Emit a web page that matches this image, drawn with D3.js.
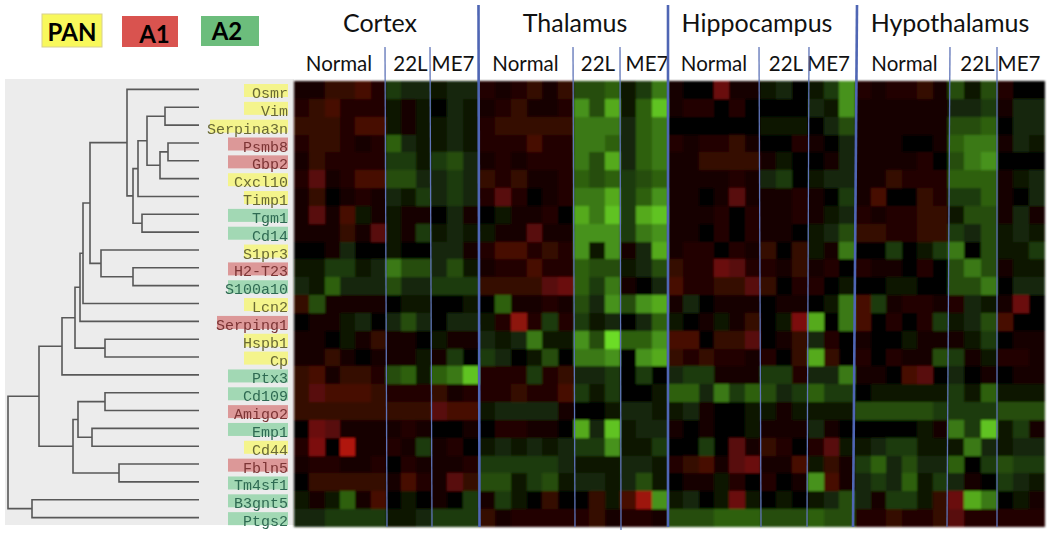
<!DOCTYPE html>
<html lang="en">
<head>
  <meta charset="UTF-8">
  <title>Astrocyte reactivity heatmap</title>
  <style>
    html, body { margin: 0; padding: 0; background: #fff; }
    svg { display: block; }
    .head { font-family: Lato, sans-serif; fill: #111; text-anchor: middle; }
    .gene { font-family: "Liberation Mono", monospace; font-size: 15px; text-anchor: end; }
    .dendro path { fill: none; stroke: #585858; stroke-width: 1.6; }
  </style>
</head>
<body>
<svg id="chart" width="1050" height="533"></svg>

<script src="https://d3js.org/d3.v7.min.js" charset="utf-8"></script>
<script>
  "use strict";

  var genes = ["Osmr","Vim","Serpina3n","Psmb8","Gbp2","Cxcl10","Timp1","Tgm1","Cd14","S1pr3","H2-T23","S100a10","Lcn2",
    "Serping1","Hspb1","Cp","Ptx3","Cd109","Amigo2","Emp1","Cd44","Fbln5","Tm4sf1","B3gnt5","Ptgs2"];
  var geneTypes = ["PAN","PAN","PAN","A1","A1","PAN","PAN","A2","A2","PAN","A1","A2","PAN",
    "A1","PAN","PAN","A2","A2","A1","A2","PAN","A1","A2","A2","A2"];
  var legendTypes = ["PAN","A1","A2"];
  var regions = ["Cortex","Thalamus","Hippocampus","Hypothalamus"];
  var groups = ["Normal","22L","ME7"];

  // + is red, - is green, one row per gene: 6 Normal, 3 22L, 3 ME7
  var cortex = [
    [1,1,3,3,4,2,-3,-2,-2,-1,-2,-2],
    [2,3,4,2,2,2,-1,1,-1,0,-2,-1],
    [3,3,3,2,4,4,-1,1,-1,-1,-2,-1],
    [2,3,3,2,1,2,-5,-2,-1,-1,-2,-1],
    [1,3,2,2,2,2,-3,-3,-1,-3,-4,-2],
    [2,5,1,2,4,4,-4,-4,-2,-2,-3,-2],
    [1,3,0,1,2,1,-2,-1,-3,-2,-3,-2],
    [1,5,1,4,-1,1,-1,1,1,0,-2,1],
    [1,1,1,3,1,5,-1,1,-3,-1,-2,-1],
    [0,0,1,-2,0,0,-1,0,0,-2,-2,1],
    [-1,-1,-3,-3,-1,-2,-6,-4,-4,-2,-4,-1],
    [-2,-1,-5,-2,-2,-2,-4,-2,-2,-3,-3,-3],
    [3,-4,1,1,1,1,0,-1,-1,0,0,-1],
    [0,1,1,-1,-2,0,-2,-4,-2,0,-2,-2],
    [1,1,0,-1,1,3,1,1,0,-1,1,1],
    [1,1,3,1,0,1,1,1,-1,1,-3,0],
    [3,4,1,3,3,2,-4,-5,-1,-5,-6,-9],
    [3,5,4,4,4,3,2,2,2,3,1,2],
    [3,3,3,3,3,3,3,3,3,5,4,4],
    [0,6,5,1,1,1,1,2,1,0,0,1],
    [2,7,0,10,1,1,2,1,-3,1,2,0],
    [1,2,2,1,1,2,0,2,1,1,1,2],
    [0,3,3,3,3,3,1,4,2,1,5,3],
    [-1,1,-1,-5,1,4,0,-1,0,1,0,-3],
    [-2,-2,-3,-3,-3,-3,-1,-1,-2,-3,-3,-3]
  ];
  var thalamus = [
    [2,1,2,3,1,3,-4,-4,-5,-1,-3,-6],
    [1,2,3,1,1,2,-7,-4,-8,-1,-5,-9],
    [2,3,3,3,3,3,-6,-6,-6,-2,-5,-6],
    [2,2,2,4,2,2,-6,-6,-5,-2,-5,-6],
    [1,2,1,2,2,2,-6,-4,-8,-2,-5,-6],
    [3,2,3,1,1,2,-5,-4,-5,-3,-4,-5],
    [2,5,2,0,1,2,-6,-6,-8,-3,-5,-7],
    [0,-1,1,1,2,0,-8,-6,-9,-3,-8,-9],
    [-1,1,1,5,1,1,-7,-7,-7,-3,-6,-7],
    [2,4,4,2,3,2,-7,-1,-7,1,-2,-8],
    [1,2,2,4,2,2,-5,-4,-4,-1,-2,-4],
    [3,3,3,3,5,6,-5,-3,-6,1,0,-2],
    [0,-5,1,1,2,1,-4,-2,-7,-4,-7,-8],
    [-1,2,8,2,-3,2,-3,-1,-2,0,-2,-5],
    [-2,-1,-2,-6,-1,-1,-7,-4,-10,-5,-5,-7],
    [-3,-2,0,-1,-4,0,-6,-6,-7,0,-7,-8],
    [2,2,2,-3,2,3,-2,-2,-3,0,-3,0],
    [2,2,3,2,2,4,-3,-1,-3,0,0,-1],
    [-1,-2,-2,-2,-2,1,0,0,-1,-2,-2,-1],
    [0,2,2,1,1,0,-8,-2,-9,-1,-2,-2],
    [-1,-2,-1,-2,-1,-2,-3,-3,-7,-1,-1,-3],
    [-3,-3,-3,-3,-3,-2,-1,-1,-1,-2,-2,-1],
    [-4,-4,-1,-3,-4,-1,-2,-2,-1,-2,-4,-1],
    [1,-3,-1,0,3,0,0,3,-1,4,9,-7],
    [3,1,2,2,2,2,2,3,1,2,2,1]
  ];
  var hippocampus = [
    [1,0,0,6,1,1,-1,-2,0,-1,-3,-7],
    [1,2,2,0,2,0,0,0,0,-2,-1,-7],
    [0,0,0,0,0,0,-1,-1,-1,0,-2,-4],
    [2,1,2,2,3,1,0,0,2,1,0,-2],
    [1,1,3,3,3,3,1,-1,0,0,1,-2],
    [1,1,1,1,2,1,-2,-3,0,-1,-2,-2],
    [1,1,0,1,5,1,1,1,2,1,0,-3],
    [1,1,1,2,0,2,1,1,2,1,-1,-2],
    [1,1,0,2,0,2,1,1,0,-1,-2,-4],
    [1,2,2,0,2,1,3,0,3,-1,1,-6],
    [3,2,2,6,5,2,2,1,3,1,2,0],
    [4,2,2,3,3,5,3,0,2,2,0,-1],
    [1,-2,0,1,1,1,0,1,1,0,-1,-6],
    [-1,0,1,-1,1,3,0,-1,7,-8,0,-6],
    [4,4,0,3,3,5,0,1,3,-2,2,0],
    [3,2,3,2,2,1,2,0,3,-8,3,0],
    [-2,-3,-3,1,1,1,-3,-3,2,-2,-2,-6],
    [-5,-5,-2,-6,-3,-5,-4,-2,-3,-5,-3,-3],
    [-1,-2,1,0,0,-1,-1,1,-1,-1,-1,-1],
    [1,0,1,0,0,-1,1,1,1,-2,1,0],
    [0,0,-3,0,5,1,3,2,0,2,5,-1],
    [2,3,4,1,5,6,1,1,4,-1,3,1],
    [0,1,1,-1,2,0,2,0,1,-7,4,1],
    [-1,-2,0,-1,6,-1,0,-1,0,-1,-2,-4],
    [-4,-4,-4,-5,-5,-5,-4,-4,-4,-5,-4,-4]
  ];
  var hypothalamus = [
    [2,1,2,2,3,1,-4,-1,-4,2,0,0],
    [1,1,1,1,1,1,-2,-2,-3,1,-2,-2],
    [1,1,1,1,1,1,-4,-4,-5,0,-2,-2],
    [1,1,1,0,0,1,-5,-6,-6,1,-2,-1],
    [1,1,1,1,2,0,-4,-6,-7,0,0,0],
    [1,1,3,2,2,2,-5,-5,-5,1,-1,-2],
    [1,4,0,0,3,2,-3,-3,-5,1,0,-2],
    [2,1,2,2,3,3,-1,-4,-4,1,-2,1],
    [3,3,2,2,3,3,-3,-2,-4,-1,-2,-1],
    [0,0,-3,0,-1,-3,-6,0,-4,-1,-1,-3],
    [2,1,1,0,2,0,-4,-6,-4,1,-1,-1],
    [0,0,-1,-1,0,0,-4,-4,-6,0,-2,-2],
    [4,-3,1,2,2,1,2,-2,-1,1,6,0],
    [4,0,2,0,2,-3,-1,-2,-4,4,0,0],
    [1,0,0,-1,1,1,1,-1,-3,0,1,1],
    [2,0,2,1,1,-4,-3,1,-1,2,2,1],
    [1,1,0,4,5,0,-2,0,1,0,1,1],
    [0,-1,-1,-1,-1,-1,-3,-1,-5,-1,-1,-1],
    [-4,-4,-4,-4,-4,-3,-3,-3,-3,-4,-4,-4],
    [0,0,0,0,-1,1,-6,-3,-9,-1,-3,1],
    [-1,-2,-3,-3,-1,-1,-1,-6,-2,-1,-2,-2],
    [-3,-5,-2,-4,-2,-2,-5,0,-3,-4,-3,-3],
    [-2,-3,-2,-5,-1,-3,-2,1,0,-3,-2,-1],
    [-2,1,-3,-3,-1,3,6,-8,-6,0,-1,1],
    [2,2,3,2,2,3,5,2,2,2,2,2]
  ];

  // dendrogram joins: id, left, right, merge height
  var merges = [
    ["m1","Vim","Serpina3n",34],
    ["m2","Psmb8","Gbp2",31],
    ["m3","m2","Cxcl10",39],
    ["m4","m1","m3",52],
    ["m5","m4","Timp1",61],
    ["m6","Tgm1","Cd14",57],
    ["m7","m5","m6",66],
    ["m8","Osmr","m7",72],
    ["m9","H2-T23","S100a10",66],
    ["m10","S1pr3","m9",98],
    ["m11","m8","m10",109],
    ["m12","m11","Lcn2",116],
    ["m13","m12","Serping1",119],
    ["m14","Hspb1","Cp",94],
    ["m15","m13","m14",124],
    ["m16","m15","Ptx3",137],
    ["m17","Cd109","Amigo2",94],
    ["m18","Emp1","Cd44",107],
    ["m19","m17","m18",121],
    ["m20","Fbln5","Tm4sf1",80],
    ["m21","m19","m20",126],
    ["m22","m16","m21",160],
    ["m23","B3gnt5","Ptgs2",167],
    ["m24","m22","m23",191]
  ];

  var regionValues = [cortex, thalamus, hippocampus, hypothalamus];
  var typeFill = { PAN: "#f4f48c", A1: "#dc9898", A2: "#a2d8b4" };
  var typeText = { PAN: "#6a6a34", A1: "#7c3434", A2: "#2f6a52" };

  var svg = d3.select("#chart");

  // columns are not quite evenly wide in the picture, so the scale is piecewise
  var x = d3.scaleLinear()
    .domain([0,6,9,12,18,21,24,30,33,36,42,45,48])
    .range([294,386,431,479,574,620,668,760,808,855,948,997,1045]);
  var y = d3.scaleBand().domain(genes).range([81,527]);
  var color = d3.scaleLinear()
    .domain([-10,-5,0,10])
    .range(["#6cdc28","#2f6011","#000000","#b0180e"]);
  var h = d3.scaleLinear().domain([0,191]).range([199,8]);

  var defs = svg.append("defs");
  defs.append("filter").attr("id","soft").append("feGaussianBlur").attr("stdDeviation",0.8);
  defs.append("filter").attr("id","softText").append("feGaussianBlur").attr("stdDeviation",0.35);

  // grey panel behind the tree
  svg.append("rect")
    .attr("x",5).attr("y",79).attr("width",289).attr("height",446)
    .attr("fill","#ececec");

  // heatmap
  var cells = [];
  regionValues.forEach(function(rows, r){
    rows.forEach(function(row, g){
      row.forEach(function(v, c){
        cells.push({ gene: genes[g], col: r * 12 + c, value: v });
      });
    });
  });

  svg.append("g")
    .attr("filter","url(#soft)")
    .selectAll("rect")
    .data(cells)
    .enter()
    .append("rect")
    .attr("x", function(d){ return x(d.col); })
    .attr("y", function(d){ return y(d.gene); })
    .attr("width", function(d){ return x(d.col + 1) - x(d.col); })
    .attr("height", y.bandwidth())
    .attr("fill", function(d){ return color(d.value); })
    .attr("shape-rendering","crispEdges");

  // gene labels
  function highlightLeft(name, type){
    if (name.length === 9) return 210;
    if (name.length === 8) return 217;
    if (type === "PAN" && name.length <= 5) return 244;
    return 228;
  }

  var labels = svg.append("g");
  labels.selectAll("rect")
    .data(genes)
    .enter()
    .append("rect")
    .attr("x", function(d,i){ return highlightLeft(d, geneTypes[i]); })
    .attr("y", function(d){ return y(d) + 3; })
    .attr("width", function(d,i){ return 288 - highlightLeft(d, geneTypes[i]); })
    .attr("height", 13)
    .attr("fill", function(d,i){ return typeFill[geneTypes[i]]; });

  labels.selectAll("text")
    .data(genes)
    .enter()
    .append("text")
    .attr("class","gene")
    .attr("x",288)
    .attr("y", function(d){ return y(d) + 17; })
    .attr("fill", function(d,i){ return typeText[geneTypes[i]]; })
    .attr("filter","url(#softText)")
    .text(function(d){ return d; });

  // dendrogram
  var nodeY = {};
  var nodeH = {};
  genes.forEach(function(g){
    nodeY[g] = y(g) + y.bandwidth() / 2 - 0.5;
    nodeH[g] = 0;
  });
  merges.forEach(function(m){
    nodeY[m[0]] = (nodeY[m[1]] + nodeY[m[2]]) / 2;
    nodeH[m[0]] = m[3];
  });

  svg.append("g")
    .attr("class","dendro")
    .selectAll("path")
    .data(merges)
    .enter()
    .append("path")
    .attr("d", function(m){
      var p = d3.path();
      p.moveTo(h(nodeH[m[1]]), nodeY[m[1]]);
      p.lineTo(h(m[3]), nodeY[m[1]]);
      p.lineTo(h(m[3]), nodeY[m[2]]);
      p.lineTo(h(nodeH[m[2]]), nodeY[m[2]]);
      return p.toString();
    });

  // legend
  var legendBoxes = { PAN: [42,14,60,33], A1: [122,16,56,31], A2: [201,16,58,30] };
  var legendFill = { PAN: "#f8f85c", A1: "#d9534f", A2: "#6cbd7c" };
  var legendLabelX = { PAN: 72, A1: 154.5, A2: 227 };
  var legendLabelY = { PAN: 41, A1: 43, A2: 40 };
  legendTypes.forEach(function(t){
    var b = legendBoxes[t];
    svg.append("rect")
      .attr("x",b[0]).attr("y",b[1]).attr("width",b[2]).attr("height",b[3])
      .attr("fill",legendFill[t])
      .attr("stroke", t === "PAN" ? "#d8d090" : "none");
    svg.append("text")
      .attr("class","head")
      .attr("x",legendLabelX[t])
      .attr("y",legendLabelY[t])
      .attr("font-size",24)
      .attr("font-weight",700)
      .style("fill","#000")
      .text(t);
  });

  // region titles and group labels
  var titleX = [380,575,757,950];
  regions.forEach(function(r,i){
    svg.append("text")
      .attr("class","head")
      .attr("x",titleX[i]).attr("y",32)
      .attr("font-size",25)
      .text(r);
  });
  var groupStart = [0,6,9];
  var groupEnd = [6,9,12];
  var groupNudge = [-1,2,-2, -1,1,3, 0,2,-3, 3,5,-2];
  regions.forEach(function(r,i){
    groups.forEach(function(g,j){
      svg.append("text")
        .attr("class","head")
        .attr("x",(x(i * 12 + groupStart[j]) + x(i * 12 + groupEnd[j])) / 2 + groupNudge[i * 3 + j])
        .attr("y",71)
        .attr("font-size",20.5)
        .text(g);
    });
  });

  // separators, the source image has them slightly tilted
  var thin = [6,9,18,21,30,33,42,45];
  var thinTilt = [[-1,1],[-1,1],[-1,1],[0,1],[-1,1],[1,-1],[2,-1],[0,0]];
  var thick = [12,24,36];
  var thickTilt = [[-0.5,0.5],[0,0],[2,-2]];
  svg.selectAll("line.thin")
    .data(thin)
    .enter()
    .append("line")
    .attr("class","thin")
    .attr("x1", function(d,i){ return x(d) + thinTilt[i][0]; })
    .attr("x2", function(d,i){ return x(d) + thinTilt[i][1]; })
    .attr("y1",47)
    .attr("y2", function(d){ return d === 21 ? 530 : 527; })
    .attr("stroke","#5f74b8").attr("stroke-width",1.3);
  svg.selectAll("line.thick")
    .data(thick)
    .enter()
    .append("line")
    .attr("class","thick")
    .attr("x1", function(d,i){ return x(d) + thickTilt[i][0]; })
    .attr("x2", function(d,i){ return x(d) + thickTilt[i][1]; })
    .attr("y1",5).attr("y2",527)
    .attr("stroke","#4f66b4").attr("stroke-width",2.6);
</script>
</body>
</html>
